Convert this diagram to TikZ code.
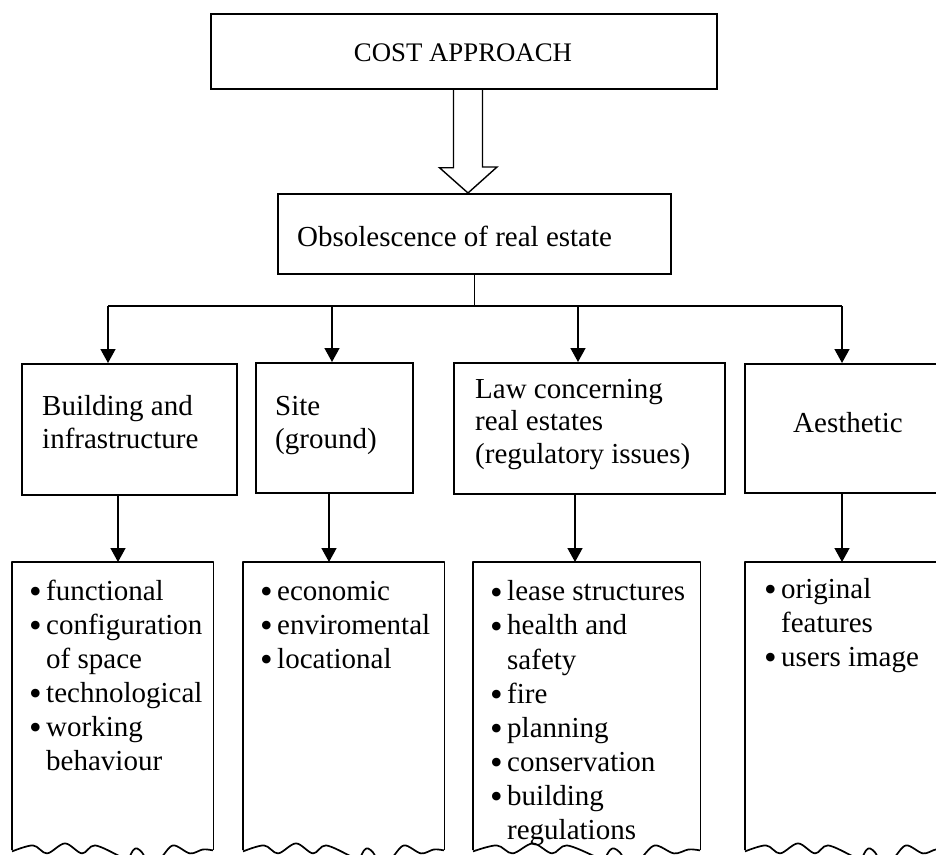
\documentclass[tikz,border=0pt]{standalone}
\usepackage{fontspec}
\setmainfont{Liberation Serif}
\usetikzlibrary{arrows.meta}

\tikzset{
  box/.style={draw, line width=1.7pt, rectangle, inner sep=0pt, anchor=north west},
  sheet/.style={rectangle, inner sep=0pt, anchor=north west},
  edge/.style={line width=1.7pt, line join=round},
  % multi-line texts are placed by the baseline of their last line
  txt/.style={inner sep=0pt, anchor=base west, align=left, font=\fontsize{29}{32.5}\selectfont},
  bul/.style={txt, font=\fontsize{29}{34.1}\selectfont},
  link/.style={line width=1.5pt},
  arr/.style={link, -{Triangle[width=15pt,length=14pt]}},
  hollow/.style={line width=1.4pt, line join=miter},
}

% bullet with a fixed gap before the item text
\newcommand\itm{\makebox[17pt][l]{\raisebox{-3.5pt}{\fontsize{36}{36}\selectfont\textbullet}}}
\newcommand\cont{\hspace*{17pt}}

% torn lower edge of a sheet: #1 node name, #2 horizontal stretch
\newcommand\tornedge[2]{%
  \draw[edge, shift={(#1.south west)}, xscale=#2]
    plot[smooth, tension=0.55] coordinates {
      (0,1) (21,-5) (35,3) (53,-7) (70,3) (83,-5) (108,6) (115,10)
      (121,0) (125,-2) (130,2) (136,10) (148,8) (161,-5) (178,3)
      (191,-1) (201,0)};}

\begin{document}
\begin{tikzpicture}[x=1pt,y=-1pt]
\useasboundingbox (0,0) rectangle (936,854);
\clip (0,0) rectangle (936,854);
\fill[white] (0,0) rectangle (936,854);

% top level
\node[box, minimum width=506, minimum height=75] (cost) at (210,13) {};
\node[txt, anchor=base, font=\fontsize{26.8}{32}\selectfont] (costtxt) at (463,61) {COST APPROACH};

\node[box, minimum width=393, minimum height=80] (obs) at (277,193) {};
\node[txt] (obstxt) at (297,246) {Obsolescence of real estate};

% hollow block arrow between the two upper boxes
\coordinate (ha) at (468,0);
\draw[hollow] (ha |- cost.south) ++(-14.5,0) -- ++(0,78) -- ++(-14,0)
  -- (ha |- obs.north) -- ++(29,-26) -- ++(-14.5,0) -- ++(0,-78);

% categories
\node[box, minimum width=215, minimum height=131] (t1) at (21,363) {};
\node[box, minimum width=157, minimum height=130] (t2) at (255,362) {};
\node[box, minimum width=271, minimum height=131] (t3) at (453,362) {};
\node[box, minimum width=206, minimum height=129] (t4) at (744,363) {};

\node[txt] (t1txt) at (42,448) {Building and\\infrastructure};
\node[txt] (t2txt) at (275,448) {Site\\(ground)};
\node[txt] (t3txt) at (475,463) {Law concerning\\real estates\\(regulatory issues)};
\node[txt] (t4txt) at (793,432) {Aesthetic};

% branching connectors
\coordinate (j1) at (108,306);
\coordinate (j2) at (332,306);
\coordinate (j3) at (578,306);
\coordinate (j4) at (842,306);
\draw[link] (obs.south) -- (obs.south |- j1);
\draw[link] (j1) -- (j4);
\draw[arr] (j1) -- (j1 |- t1.north);
\draw[arr] (j2) -- (j2 |- t2.north);
\draw[arr] (j3) -- (j3 |- t3.north);
\draw[arr] (j4) -- (j4 |- t4.north);

% detail sheets
\node[sheet, minimum width=201, minimum height=288] (b1) at (12,562) {};
\node[sheet, minimum width=201, minimum height=288] (b2) at (243,562) {};
\node[sheet, minimum width=227, minimum height=288] (b3) at (473,562) {};
\node[sheet, minimum width=201, minimum height=288] (b4) at (745,562) {};
\foreach \b/\s in {b1/1, b2/1, b3/1.1294, b4/1} {
  \draw[edge] (\b.south west) -- (\b.north west) -- (\b.north east) -- (\b.south east);
  \tornedge{\b}{\s}
}

\node[bul] (b1txt) at (29,770.5) {\itm functional\\\itm configuration\\\cont of space\\\itm technological\\\itm working\\\cont behaviour};
\node[bul] (b2txt) at (260,668.2) {\itm economic\\\itm enviromental\\\itm locational};
\node[bul] (b3txt) at (490,839.5) {\itm lease structures\\\itm health and\\\cont safety\\\itm fire\\\itm planning\\\itm conservation\\\itm building\\\cont regulations};
\node[bul] (b4txt) at (764,666.2) {\itm original\\\cont features\\\itm users image};

% connectors to the detail sheets
\coordinate (c1) at (118,0);
\coordinate (c2) at (329,0);
\coordinate (c3) at (575,0);
\coordinate (c4) at (842,0);
\draw[arr] (c1 |- t1.south) -- (c1 |- b1.north);
\draw[arr] (c2 |- t2.south) -- (c2 |- b2.north);
\draw[arr] (c3 |- t3.south) -- (c3 |- b3.north);
\draw[arr] (c4 |- t4.south) -- (c4 |- b4.north);
\end{tikzpicture}
\end{document}
